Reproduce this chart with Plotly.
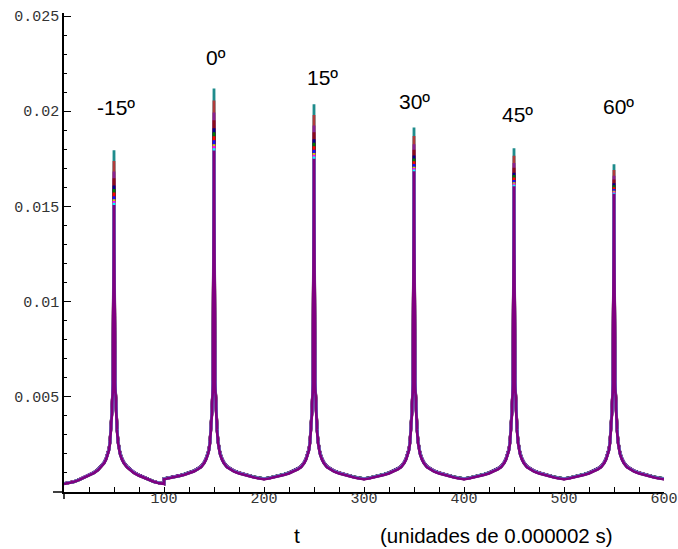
import plotly.graph_objects as go

# ---- data ----
angles = ["-15º", "0º", "15º", "30º", "45º", "60º"]
centers = [50, 150, 250, 350, 450, 550]

# half-profile offsets from each peak and the curve values there
dx = [1, 2, 3, 4, 5, 6, 8, 10, 13, 16, 20, 25, 30, 35, 40, 45, 50]
prof_first = [0.0058, 0.0042, 0.0033, 0.0026, 0.0022, 0.0020, 0.0017, 0.0015, 0.0013,
              0.00115, 0.0010, 0.00086, 0.00074, 0.00063, 0.00053, 0.00047, 0.00043]
prof_rest = [0.0058, 0.0042, 0.0033, 0.0026, 0.0022, 0.0020, 0.0017, 0.0015, 0.0013,
             0.0012, 0.00108, 0.00098, 0.0009, 0.00083, 0.00077, 0.00072, 0.00068]

series_colors = ["#1f8c8c", "#b03a3a", "#8b2090", "#8b0a1a", "#00008b", "#007a00",
                 "#ff0000", "#1010ff", "#d4d400", "#ff00ff", "#00ffff", "#800080"]
series_gain = [1.04, 1.03, 1.035, 1.02, 1.03, 1.025, 1.02, 1.015, 1.01, 1.02, 1.01, 1.0]

# peak value of each series (rows) at each angle (columns)
peaks = [
    [0.01795, 0.02120, 0.02036, 0.01915, 0.01805, 0.01721],
    [0.01739, 0.02056, 0.01980, 0.01870, 0.01766, 0.01691],
    [0.01683, 0.01993, 0.01925, 0.01826, 0.01728, 0.01661],
    [0.01648, 0.01953, 0.01890, 0.01797, 0.01703, 0.01642],
    [0.01610, 0.01910, 0.01853, 0.01767, 0.01677, 0.01622],
    [0.01592, 0.01889, 0.01834, 0.01752, 0.01665, 0.01611],
    [0.01573, 0.01868, 0.01816, 0.01737, 0.01652, 0.01601],
    [0.01554, 0.01847, 0.01797, 0.01723, 0.01639, 0.01591],
    [0.01538, 0.01827, 0.01781, 0.01709, 0.01627, 0.01582],
    [0.01528, 0.01817, 0.01771, 0.01702, 0.01621, 0.01577],
    [0.01519, 0.01806, 0.01762, 0.01694, 0.01614, 0.01572],
    [0.01508, 0.01794, 0.01751, 0.01685, 0.01606, 0.01566],
]

label_x = [51.5, 152, 258, 350, 453, 554]
label_y = [0.02018, 0.0228, 0.02178, 0.02052, 0.01984, 0.02026]

x_ticks = [100, 200, 300, 400, 500, 600]
y_ticks = [0.005, 0.01, 0.015, 0.02, 0.025]
y_ticktext = ["0.005", "0.01", "0.015", "0.02", "0.025"]

# ---- figure ----
fig = go.Figure()
for i, col in enumerate(series_colors):
    xs, ys = [], []
    g = series_gain[i]
    for k, c in enumerate(centers):
        prof = prof_first if k == 0 else prof_rest
        for d, v in zip(reversed(dx), reversed(prof)):
            xs.append(c - d)
            ys.append(v * g)
        xs.append(c)
        ys.append(peaks[i][k])
        for d, v in zip(dx, prof):
            xs.append(c + d)
            ys.append(v * g)
    fig.add_trace(go.Scatter(x=xs, y=ys, mode="lines",
                             line=dict(color=col, width=2.8),
                             showlegend=False, hoverinfo="skip"))

for txt, lx, ly in zip(angles, label_x, label_y):
    fig.add_annotation(x=lx, y=ly, xref="x", yref="y", text=txt, showarrow=False,
                       xanchor="center", yanchor="middle",
                       font=dict(family="Liberation Sans", size=21, color="black"))

H_PLOT = 479.0
W_PLOT = 600.0
fig.add_annotation(x=(297 - 64) / W_PLOT, y=(492 - 535.5) / H_PLOT, xref="paper", yref="paper",
                   text="t", showarrow=False, xanchor="center", yanchor="middle",
                   borderpad=0,
                   font=dict(family="Liberation Sans", size=21, color="black"))
fig.add_annotation(x=(496 - 64) / W_PLOT, y=(492 - 535.5) / H_PLOT, xref="paper", yref="paper",
                   text="(unidades de 0.000002 s)", showarrow=False,
                   xanchor="center", yanchor="middle", borderpad=0,
                   font=dict(family="Liberation Sans", size=20.5, color="black"))

# axis extensions past the origin
fig.add_shape(type="line", xref="paper", yref="paper", x0=-11 / W_PLOT, x1=0,
              y0=0, y1=0, line=dict(color="black", width=1.5))
fig.add_shape(type="line", xref="paper", yref="paper", x0=0, x1=0,
              y0=-7 / H_PLOT, y1=0, line=dict(color="black", width=1.5))

tickfont = dict(family="Liberation Mono", size=15, color="#333333")
fig.update_layout(
    width=678, height=549,
    margin=dict(l=64, r=14, t=13, b=57),
    paper_bgcolor="white", plot_bgcolor="white",
    xaxis=dict(range=[0, 600], showgrid=False, zeroline=False, automargin=False,
               showline=True, linecolor="black", linewidth=1.5,
               ticks="inside", ticklen=5, tickwidth=1.2, tickcolor="black",
               tickvals=x_ticks, ticktext=[str(v) for v in x_ticks],
               tickfont=tickfont, ticklabelstandoff=-9,
               minor=dict(dtick=25, tick0=0, ticks="inside", ticklen=5,
                          tickwidth=1.2, tickcolor="black", showgrid=False)),
    yaxis=dict(range=[0, 0.02516], showgrid=False, zeroline=False, automargin=False,
               showline=True, linecolor="black", linewidth=1.5,
               ticks="inside", ticklen=7, tickwidth=1.2, tickcolor="black",
               tickvals=y_ticks, ticktext=y_ticktext, tickfont=tickfont,
               minor=dict(dtick=0.001, tick0=0, ticks="inside", ticklen=3,
                          tickwidth=1.2, tickcolor="black", showgrid=False)),
)

fig.write_html("out.html")
